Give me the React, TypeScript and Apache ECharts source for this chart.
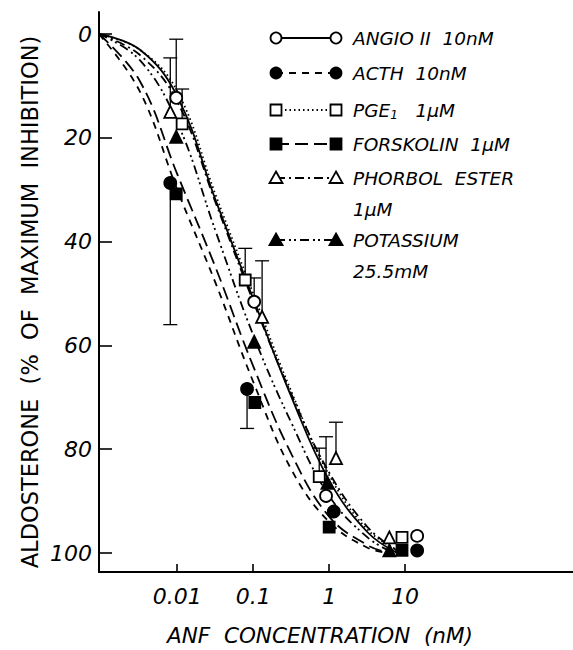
import React, { useEffect, useRef } from 'react';
import * as echarts from 'echarts';

// ---------- data (concentration in nM, % of maximum inhibition) ----------
const xTickValues = [0.01, 0.1, 1, 10];
const xTickLabels = ['0.01', '0.1', '1', '10'];
const yTickValues = [0, 20, 40, 60, 80, 100];

const angioPts = [[0.0097, 12.3], [0.103, 51.6], [0.91, 89], [14.4, 96.7]];
const acthPts = [[0.0081, 28.7], [0.083, 68.4], [1.15, 92], [14.4, 99.5]];
const pgePts = [[0.0116, 17.3], [0.0785, 47.4], [0.74, 85.3], [9.1, 97]];
const forskPts = [[0.0097, 30.8], [0.105, 71], [1.0, 95], [9.1, 99.5]];
const phorbolPts = [[0.0081, 15], [0.131, 54.5], [1.23, 81.7], [6.2, 97]];
const potassPts = [[0.0097, 19.8], [0.103, 59.3], [0.95, 86.5], [6.2, 99.5]];

// error bars: [conc, value, end]
const errorBars = [
  [0.0097, 12.3, 1], [0.103, 51.6, 47], [0.91, 89, 77.6],
  [0.0081, 28.7, 56], [0.083, 68.4, 76],
  [0.0116, 17.3, 10.6], [0.0785, 47.4, 41.3], [0.74, 85.3, 79.8],
  [0.0081, 15, 4.6], [0.131, 54.5, 43.7], [1.23, 81.7, 74.8],
];

// fitted curves
const angioCurve = [[0.00093, 0], [0.0032, 3], [0.01, 12], [0.032, 32], [0.1, 51], [0.32, 70], [1, 86], [3.2, 96], [7.9, 100]];
const pgeCurve = [[0.00093, 0], [0.0032, 3], [0.01, 11], [0.032, 31], [0.1, 50], [0.32, 69], [1, 85], [3.2, 95.5], [8.9, 99.8]];
const phorbolCurve = [[0.00093, 0], [0.0032, 4], [0.01, 13], [0.032, 32.5], [0.1, 51.5], [0.32, 69.5], [1, 84.5], [3.2, 95], [7.9, 99.6]];
const potassCurve = [[0.00093, 0], [0.0032, 5], [0.01, 17], [0.032, 38], [0.1, 58], [0.32, 75], [1, 89], [3.2, 97], [7.1, 100]];
const acthCurve = [[0.00093, 0], [0.0032, 11], [0.01, 30], [0.032, 48], [0.1, 67], [0.32, 84], [1, 94], [3.2, 99], [6.3, 100]];
const forskCurve = [[0.00093, 0], [0.0032, 9], [0.01, 27], [0.032, 45], [0.1, 64], [0.32, 81], [1, 93], [3.2, 98.5], [6.3, 100]];

const legendLines1 = ['ANGIO II  10nM', 'ACTH  10nM', 'PGE', 'FORSKOLIN  1µM', 'PHORBOL  ESTER', 'POTASSIUM'];
const legendLines2 = ['', '', '', '', '1µM', '25.5mM'];

const FONT = '"DejaVu Sans", "Liberation Sans", Arial, sans-serif';

const lg = (v: number[][]) => v.map((p) => [Math.log10(p[0]), p[1]]);

const App: React.FC = () => {
  const ref = useRef<HTMLDivElement>(null);
  useEffect(() => {
    if (!ref.current) return;
    const chart = echarts.init(ref.current, undefined, { renderer: 'svg' });

    const styles = [
      { name: 'ANGIO', pts: angioPts, curve: angioCurve, dash: 'solid' as any, symbol: 'circle', fill: '#fff', size: 12 },
      { name: 'ACTH', pts: acthPts, curve: acthCurve, dash: [7, 6], symbol: 'circle', fill: '#000', size: 12 },
      { name: 'PGE', pts: pgePts, curve: pgeCurve, dash: [1.5, 3], symbol: 'rect', fill: '#fff', size: 11 },
      { name: 'FORSK', pts: forskPts, curve: forskCurve, dash: [13, 6], symbol: 'rect', fill: '#000', size: 11 },
      { name: 'PHORBOL', pts: phorbolPts, curve: phorbolCurve, dash: [9, 4, 2, 4], symbol: 'triangle', fill: '#fff', size: 12 },
      { name: 'POTASS', pts: potassPts, curve: potassCurve, dash: [9, 4, 2, 3, 2, 4], symbol: 'triangle', fill: '#000', size: 12 },
    ];

    const series: any[] = [];
    styles.forEach((s) => {
      series.push({
        type: 'line',
        name: s.name + ' fit',
        data: lg(s.curve),
        smooth: 0.4,
        showSymbol: false,
        lineStyle: { color: '#000', width: 1.8, type: s.dash },
        z: 2,
        silent: true,
      });
    });
    series.push({
      type: 'custom',
      name: 'errors',
      data: errorBars.map((e) => [Math.log10(e[0]), e[1], e[2]]),
      renderItem: (params: any, api: any) => {
        const x = api.value(0);
        const p1 = api.coord([x, api.value(1)]);
        const p2 = api.coord([x, api.value(2)]);
        return {
          type: 'group',
          children: [
            { type: 'line', shape: { x1: p1[0], y1: p1[1], x2: p2[0], y2: p2[1] }, style: { stroke: '#000', lineWidth: 1.3 } },
            { type: 'line', shape: { x1: p2[0] - 7, y1: p2[1], x2: p2[0] + 7, y2: p2[1] }, style: { stroke: '#000', lineWidth: 1.3 } },
          ],
        };
      },
      z: 3,
    });
    styles.forEach((s) => {
      series.push({
        type: 'scatter',
        name: s.name,
        data: lg(s.pts),
        symbol: s.symbol,
        symbolSize: s.size,
        itemStyle: { color: s.fill, borderColor: '#000', borderWidth: 1.8, opacity: 1 },
        z: 4,
      });
    });

    // legend drawn with graphics
    const rowsY = [38, 73, 110, 144, 178, 240];
    const graphics: any[] = [];
    const x1 = 276, x2 = 336;
    const legendFont = { fontFamily: FONT, fontStyle: 'italic', fontSize: 18.5, fill: '#000' };
    styles.forEach((s, i) => {
      const y = rowsY[i];
      graphics.push({ type: 'line', shape: { x1, y1: y, x2, y2: y }, style: { stroke: '#000', lineWidth: 1.8, lineDash: s.dash === 'solid' ? null : s.dash }, z: 10 });
      [x1, x2].forEach((cx) => {
        if (s.symbol === 'circle') {
          graphics.push({ type: 'circle', shape: { cx, cy: y, r: 5.5 }, style: { fill: s.fill, stroke: '#000', lineWidth: 1.8 }, z: 11 });
        } else if (s.symbol === 'rect') {
          graphics.push({ type: 'rect', shape: { x: cx - 5.5, y: y - 5.5, width: 11, height: 11 }, style: { fill: s.fill, stroke: '#000', lineWidth: 1.8 }, z: 11 });
        } else {
          graphics.push({ type: 'polygon', shape: { points: [[cx, y - 6.5], [cx + 6.5, y + 5], [cx - 6.5, y + 5]] }, style: { fill: s.fill, stroke: '#000', lineWidth: 1.8 }, z: 11 });
        }
      });
      if (i === 2) {
        graphics.push({
          type: 'text', x: 353, y, z: 11,
          style: {
            text: '{a|PGE}{s|1}{a|   1µM}',
            textVerticalAlign: 'middle',
            rich: {
              a: { ...legendFont },
              s: { ...legendFont, fontSize: 12, padding: [9, 0, 0, 0] },
            },
          },
        });
      } else {
        graphics.push({ type: 'text', x: 353, y, z: 11, style: { text: legendLines1[i], ...legendFont, textVerticalAlign: 'middle' } });
      }
      if (legendLines2[i]) {
        graphics.push({ type: 'text', x: 353, y: y + 31, z: 11, style: { text: legendLines2[i], ...legendFont, textVerticalAlign: 'middle' } });
      }
    });
    graphics.push({
      type: 'text', x: 30, y: 302, rotation: Math.PI / 2,
      style: { text: 'ALDOSTERONE  (%  OF  MAXIMUM  INHIBITION)', fontFamily: FONT, fontSize: 22.5, fill: '#000', textAlign: 'center', textVerticalAlign: 'middle' },
    });
    graphics.push({
      type: 'text', x: 320, y: 635,
      style: { text: 'ANF  CONCENTRATION  (nM)', fontFamily: FONT, fontStyle: 'italic', fontSize: 21.5, fill: '#000', textAlign: 'center', textVerticalAlign: 'middle' },
    });

    chart.setOption({
      animation: false,
      backgroundColor: '#fff',
      grid: { left: 99, right: 0, top: 12, bottom: 78, containLabel: false },
      xAxis: {
        type: 'value',
        min: -3.03,
        max: 3.21,
        axisLine: { onZero: false, lineStyle: { color: '#000', width: 2 } },
        axisTick: { inside: true, length: 8, lineStyle: { color: '#000', width: 1.6 }, customValues: xTickValues.map(Math.log10) },
        axisLabel: {
          customValues: xTickValues.map(Math.log10),
          formatter: (v: number) => {
            const i = xTickValues.findIndex((t) => Math.abs(Math.log10(t) - v) < 1e-6);
            return i >= 0 ? xTickLabels[i] : '';
          },
          color: '#000', fontFamily: FONT, fontStyle: 'italic', fontSize: 22, margin: 13,
        },
        splitLine: { show: false },
      },
      yAxis: {
        type: 'value',
        inverse: true,
        min: -4.24,
        max: 103.66,
        axisLine: { onZero: false, lineStyle: { color: '#000', width: 2 } },
        axisTick: { inside: true, length: 13, lineStyle: { color: '#000', width: 1.6 }, customValues: yTickValues },
        axisLabel: { customValues: yTickValues, color: '#000', fontFamily: FONT, fontStyle: 'italic', fontSize: 22, margin: 7 },
        splitLine: { show: false },
      },
      graphic: graphics,
      series,
    });
    return () => chart.dispose();
  }, []);
  return <div ref={ref} style={{ width: 573, height: 650, position: 'absolute', left: 0, top: 0 }} />;
};

export default App;
